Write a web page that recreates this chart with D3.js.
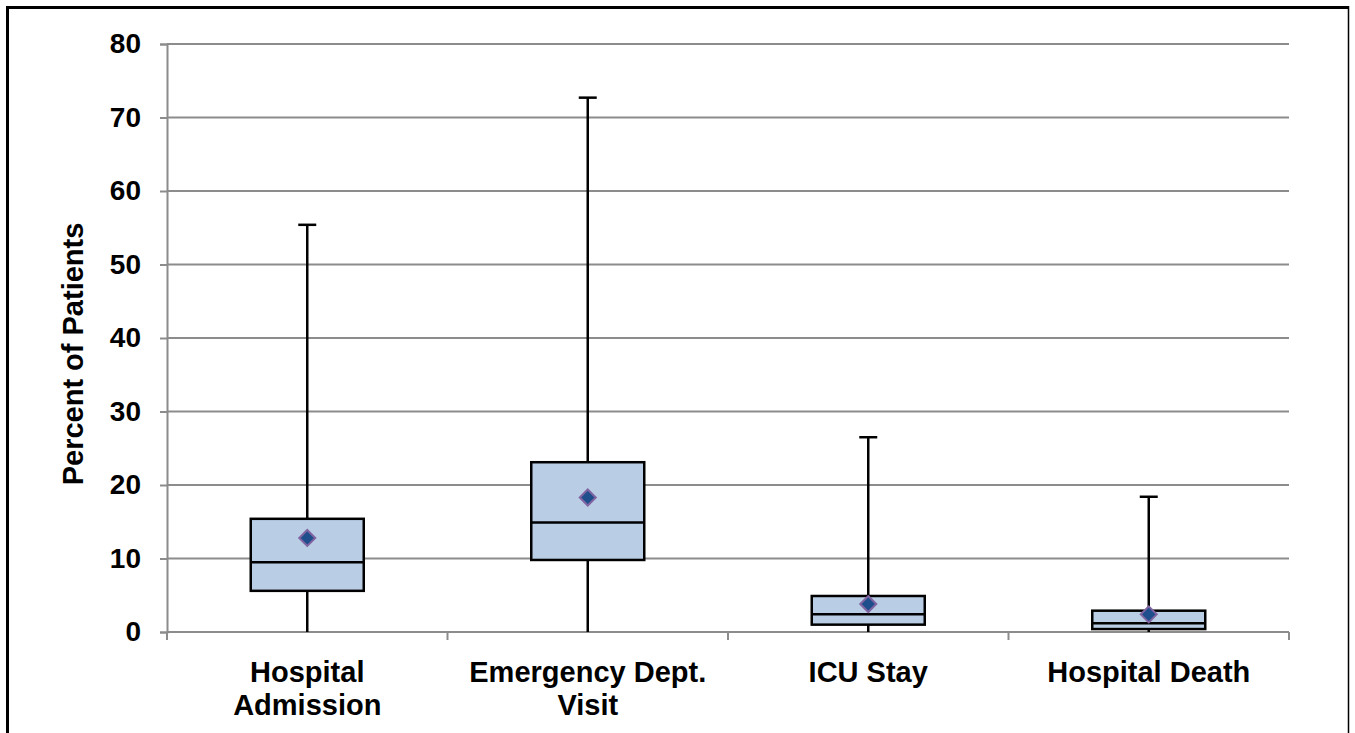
<!DOCTYPE html>
<html>
<head>
<meta charset="utf-8">
<script src="https://cdn.jsdelivr.net/npm/d3@7"></script>
<style>
  body { margin: 0; background: #fff; }
  svg { display: block; font-family: "Liberation Sans", Arial, sans-serif; }
</style>
</head>
<body>
<svg id="chart" width="1355" height="733"></svg>
<script>
// values (percent of patients)
var categories = [["Hospital", "Admission"], ["Emergency Dept.", "Visit"], ["ICU Stay"], ["Hospital Death"]];
var whiskerMin = [0, 0, 0, 0];
var q1 = [5.6, 9.8, 1.0, 0.4];
var median = [9.5, 14.9, 2.4, 1.2];
var q3 = [15.4, 23.1, 4.9, 2.9];
var whiskerMax = [55.4, 72.7, 26.5, 18.4];
var mean = [12.8, 18.3, 3.8, 2.4];
var yTicks = [0, 10, 20, 30, 40, 50, 60, 70, 80];

var margin = {top: 44, right: 66, bottom: 101, left: 167},
    width = 1355 - margin.left - margin.right,
    height = 733 - margin.top - margin.bottom;

var svg = d3.select('#chart');

// frame round the picture
svg.append('line').attr('x1', 7.5).attr('x2', 7.5).attr('y1', 6).attr('y2', 733)
   .attr('stroke', '#000').attr('stroke-width', 3);
svg.append('line').attr('x1', 6).attr('x2', 1349).attr('y1', 7.5).attr('y2', 7.5)
   .attr('stroke', '#000').attr('stroke-width', 3);
svg.append('line').attr('x1', 1348.5).attr('x2', 1348.5).attr('y1', 6).attr('y2', 733)
   .attr('stroke', '#000').attr('stroke-width', 1.5);

var g = svg.append('g').attr('transform', 'translate(' + margin.left + ',' + margin.top + ')');

var y = d3.scaleLinear().domain([0, 80]).range([height, 0]);
var x = d3.scaleBand().domain(d3.range(categories.length)).range([0, width]).padding(0);

// gridlines
g.append('g').selectAll('line').data(yTicks.slice(1)).join('line')
  .attr('x1', 0).attr('x2', width)
  .attr('y1', d => y(d)).attr('y2', d => y(d))
  .attr('stroke', '#8c8c8c').attr('stroke-width', 2);

// y axis
var yAxis = g.append('g')
  .call(d3.axisLeft(y).tickValues(yTicks).tickSize(7).tickPadding(19));
yAxis.select('.domain').attr('stroke', '#8c8c8c').attr('stroke-width', 2);
yAxis.selectAll('.tick line').attr('stroke', '#8c8c8c').attr('stroke-width', 2);
yAxis.selectAll('.tick text').attr('font-size', 28).attr('font-weight', 'bold').attr('fill', '#000')
  .attr('font-family', '"Liberation Sans", Arial, sans-serif');

// x axis line with ticks at category edges
g.append('line').attr('x1', 0).attr('x2', width).attr('y1', height).attr('y2', height)
  .attr('stroke', '#8c8c8c').attr('stroke-width', 2);
g.append('g').selectAll('line').data(d3.range(categories.length + 1)).join('line')
  .attr('x1', d => d * x.bandwidth()).attr('x2', d => d * x.bandwidth())
  .attr('y1', height).attr('y2', height + 8)
  .attr('stroke', '#8c8c8c').attr('stroke-width', 2);

// category labels
g.append('g').selectAll('text').data(categories).join('text')
  .attr('x', (d, i) => x(i) + x.bandwidth() / 2)
  .attr('y', height + 50)
  .attr('text-anchor', 'middle')
  .attr('font-size', 29).attr('font-weight', 'bold').attr('fill', '#000')
  .each(function(d) {
    var t = d3.select(this);
    d.forEach(function(line, k) {
      t.append('tspan').attr('x', t.attr('x')).attr('dy', k === 0 ? 0 : 33).text(line);
    });
  });

// y title
svg.append('text')
  .attr('transform', 'translate(83,354) rotate(-90)')
  .attr('text-anchor', 'middle')
  .attr('font-size', 29).attr('font-weight', 'bold').attr('fill', '#000')
  .text('Percent of Patients');

// boxes
var boxW = 113;
var boxes = g.append('g').selectAll('g').data(categories).join('g')
  .attr('transform', (d, i) => 'translate(' + (x(i) + x.bandwidth() / 2) + ',0)');

boxes.append('line')
  .attr('x1', 0).attr('x2', 0)
  .attr('y1', (d, i) => y(whiskerMin[i])).attr('y2', (d, i) => y(whiskerMax[i]))
  .attr('stroke', '#000').attr('stroke-width', 2.5);
boxes.append('line')
  .attr('x1', -9).attr('x2', 9)
  .attr('y1', (d, i) => y(whiskerMax[i])).attr('y2', (d, i) => y(whiskerMax[i]))
  .attr('stroke', '#000').attr('stroke-width', 2.5);
boxes.append('rect')
  .attr('x', -boxW / 2).attr('width', boxW)
  .attr('y', (d, i) => y(q3[i])).attr('height', (d, i) => y(q1[i]) - y(q3[i]))
  .attr('fill', '#b9cde5').attr('stroke', '#000').attr('stroke-width', 2.5);
boxes.append('line')
  .attr('x1', -boxW / 2).attr('x2', boxW / 2)
  .attr('y1', (d, i) => y(median[i])).attr('y2', (d, i) => y(median[i]))
  .attr('stroke', '#000').attr('stroke-width', 2.5);
boxes.append('path')
  .attr('d', 'M0,-8L8,0L0,8L-8,0Z')
  .attr('transform', (d, i) => 'translate(0,' + y(mean[i]) + ')')
  .attr('fill', '#1f4e8c').attr('stroke', '#8064a2').attr('stroke-width', 2);
</script>
</body>
</html>
